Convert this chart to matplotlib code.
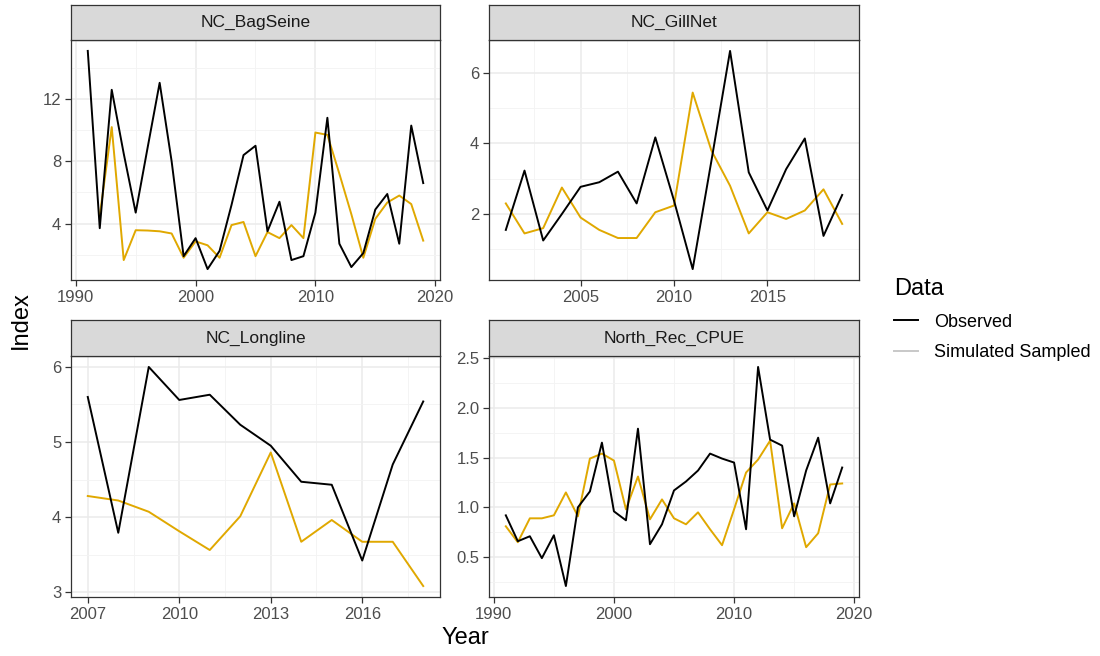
import numpy as np
from matplotlib import pyplot as plt
from matplotlib.lines import Line2D
from matplotlib.ticker import FixedLocator

plt.rcParams['font.family'] = ['Liberation Sans', 'DejaVu Sans']

# ---- data ----
bag_years = list(range(1991, 2020))
bag_obs = [15.1, 3.7, 12.6, 8.5, 4.7, 8.9, 13.05, 8.0, 1.9, 3.06, 1.07, 2.24, 5.2, 8.4,
           9.0, 3.5, 5.4, 1.65, 1.9, 4.7, 10.8, 2.7, 1.2, 2.1, 4.9, 5.9, 2.7, 10.3, 6.6]
bag_sim_years = list(range(1992, 2020))
bag_sim = [4.5, 10.2, 1.65, 3.57, 3.55, 3.5, 3.36, 1.8, 2.85, 2.6, 1.8, 3.9, 4.1, 1.9,
           3.45, 3.06, 3.9, 3.06, 9.85, 9.7, 7.2, 4.6, 1.8, 4.3, 5.35, 5.8, 5.25, 2.9]

gill_years = list(range(2001, 2020))
gill_obs = [1.55, 3.23, 1.25, 2.0, 2.77, 2.9, 3.2, 2.3, 4.17, 2.38, 0.44, 3.5, 6.62,
            3.18, 2.1, 3.27, 4.14, 1.38, 2.54]
gill_sim = [2.3, 1.45, 1.6, 2.75, 1.9, 1.55, 1.32, 1.32, 2.05, 2.24, 5.44, 3.8, 2.8,
            1.45, 2.05, 1.86, 2.1, 2.7, 1.72]

long_years = list(range(2007, 2019))
long_obs = [5.6, 3.79, 6.0, 5.56, 5.63, 5.23, 4.95, 4.47, 4.43, 3.42, 4.7, 5.54]
long_sim = [4.28, 4.22, 4.07, 3.81, 3.56, 4.01, 4.86, 3.67, 3.96, 3.67, 3.67, 3.08]

rec_years = list(range(1991, 2020))
rec_obs = [0.92, 0.66, 0.71, 0.49, 0.72, 0.21, 1.0, 1.16, 1.65, 0.96, 0.87, 1.79, 0.63,
           0.83, 1.17, 1.26, 1.37, 1.54, 1.49, 1.45, 0.78, 2.41, 1.68, 1.62, 0.91, 1.37,
           1.70, 1.04, 1.40]
rec_sim = [0.81, 0.65, 0.89, 0.89, 0.92, 1.15, 0.91, 1.49, 1.54, 1.47, 0.98, 1.31, 0.88,
           1.08, 0.89, 0.83, 0.95, 0.78, 0.62, 0.98, 1.35, 1.48, 1.67, 0.79, 1.04, 0.60,
           0.74, 1.23, 1.24]

panels = [
    ("NC_BagSeine", bag_years, bag_obs, bag_sim_years, bag_sim,
     [1990, 2000, 2010, 2020], [4, 8, 12]),
    ("NC_GillNet", gill_years, gill_obs, gill_years, gill_sim,
     [2005, 2010, 2015], [2, 4, 6]),
    ("NC_Longline", long_years, long_obs, long_years, long_sim,
     [2007, 2010, 2013, 2016], [3, 4, 5, 6]),
    ("North_Rec_CPUE", rec_years, rec_obs, rec_years, rec_sim,
     [1990, 2000, 2010, 2020], [0.5, 1.0, 1.5, 2.0, 2.5]),
]

OBS_COL = "black"
SIM_COL = "#E0A800"

W, H = 1100, 656
fig = plt.figure(figsize=(W / 100, H / 100), dpi=100)

# pixel boxes: (left, right, strip top, strip bottom, plot bottom)
boxes = [(71, 440, 5, 40, 280), (489, 859, 5, 40, 280),
         (71, 440, 320, 356, 597), (489, 859, 320, 356, 597)]


def midpoints(br):
    br = list(br)
    step = br[1] - br[0]
    return [b - step / 2 for b in br] + [br[-1] + step / 2]


for (name, xo, yo, xs, ys, xbr, ybr), (l, r, st, sb, pb) in zip(panels, boxes):
    ax = fig.add_axes([l / W, 1 - pb / H, (r - l) / W, (pb - sb) / H])
    ax.plot(xs, ys, color=SIM_COL, lw=1.4, zorder=3)
    ax.plot(xo, yo, color=OBS_COL, lw=1.4, zorder=4)
    ax.margins(0.05)
    xlim, ylim = ax.get_xlim(), ax.get_ylim()
    ax.xaxis.set_major_locator(FixedLocator(xbr))
    ax.yaxis.set_major_locator(FixedLocator(ybr))
    ax.xaxis.set_minor_locator(FixedLocator(midpoints(xbr)))
    ax.yaxis.set_minor_locator(FixedLocator(midpoints(ybr)))
    ax.set_xlim(xlim)
    ax.set_ylim(ylim)
    ax.grid(which='major', color='#EBEBEB', lw=1.1, zorder=0)
    ax.grid(which='minor', color='#F3F3F3', lw=0.6, zorder=0)
    ax.tick_params(which='minor', length=0)
    ax.tick_params(which='major', length=4, width=0.9, color='#333333',
                   labelsize=12, labelcolor='#4D4D4D', pad=3)
    ax.set_yticklabels([f"{v:g}" if name != "North_Rec_CPUE" else f"{v:.1f}" for v in ybr])
    for s in ax.spines.values():
        s.set_color('#333333')
        s.set_linewidth(0.9)

    sax = fig.add_axes([l / W, 1 - sb / H, (r - l) / W, (sb - st) / H])
    sax.set_facecolor('#D9D9D9')
    sax.set_xticks([])
    sax.set_yticks([])
    for s in sax.spines.values():
        s.set_color('#333333')
        s.set_linewidth(0.9)
    sax.text(0.5, 0.5, name, ha='center', va='center', fontsize=12.5,
             color='#1A1A1A', transform=sax.transAxes)

fig.text(21 / W, 1 - 320 / H, "Index", rotation=90, ha='center', va='center', fontsize=17)
fig.text(465 / W, 1 - 638 / H, "Year", ha='center', va='center', fontsize=17)

handles = [Line2D([], [], color=OBS_COL, lw=1.4),
           Line2D([], [], color='#C8C8C8', lw=1.4)]
leg = fig.legend(handles, ["Observed", "Simulated Sampled"], title="Data",
                 loc='upper left', bbox_to_anchor=(878 / W, 1 - 262 / H),
                 frameon=False, fontsize=13, title_fontsize=17,
                 handlelength=1.3, handletextpad=0.9, labelspacing=0.75)
leg._legend_box.align = "left"

fig.savefig("out.png", dpi=100)
